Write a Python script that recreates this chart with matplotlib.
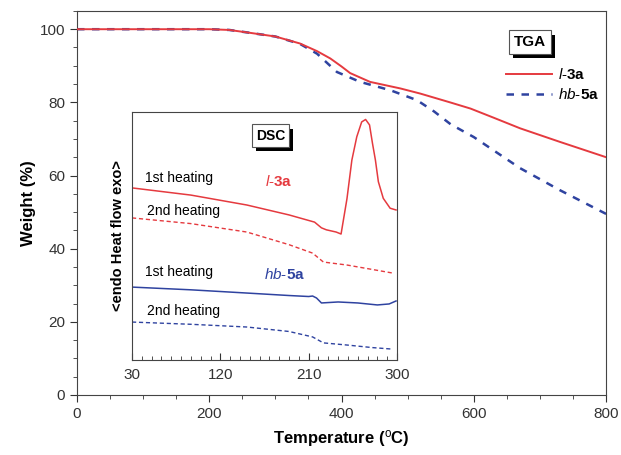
import matplotlib.pyplot as plt
import matplotlib.patheffects as pe
from matplotlib.ticker import MultipleLocator

plt.rcParams["font.family"] = ["Liberation Sans", "DejaVu Sans"]
plt.rcParams["mathtext.fontset"] = "custom"
plt.rcParams["mathtext.rm"] = "Liberation Sans"
plt.rcParams["mathtext.it"] = "Liberation Sans:italic"
plt.rcParams["mathtext.bf"] = "Liberation Sans:bold"

# TGA data (temperature in degC, weight in %)
tga_l3a_t = [0, 100, 200, 230, 262, 300, 337, 363, 383, 400, 413, 443, 489, 519, 564, 595, 630, 670, 730, 800]
tga_l3a_w = [100, 100, 100, 99.8, 99.0, 98.0, 96.1, 94.0, 92.0, 89.8, 88.0, 85.6, 83.8, 82.4, 80.0, 78.3, 75.8, 72.9, 69.2, 65.0]

tga_hb5a_t = [0, 100, 200, 230, 262, 300, 337, 363, 393, 428, 474, 514, 540, 565, 600, 670, 730, 800]
tga_hb5a_w = [100, 100, 100, 99.8, 99.0, 98.0, 96.0, 93.3, 88.3, 85.6, 83.3, 80.6, 77.5, 74.0, 70.5, 62.0, 56.0, 49.5]

# DSC data (temperature in degC, heat flow in arbitrary offset units)
dsc_l3a_1_t = [30, 90, 147, 190, 216, 223, 228, 238, 243, 249, 254, 259, 264, 268, 272, 275, 278, 281, 286, 293, 299]
dsc_l3a_1_h = [69.4, 66.5, 62.5, 58.5, 55.6, 53.3, 52.5, 51.6, 50.8, 65.0, 80.6, 90.0, 96.0, 97.0, 94.8, 87.4, 80.6, 71.9, 65.2, 61.2, 60.5]

dsc_l3a_2_t = [30, 90, 147, 190, 214, 225, 249, 275, 295]
dsc_l3a_2_h = [57.3, 55.0, 51.6, 46.5, 43.1, 39.5, 38.3, 36.5, 35.1]

dsc_hb5a_1_t = [30, 90, 147, 190, 210, 214, 218, 223, 240, 260, 280, 292, 299]
dsc_hb5a_1_h = [29.4, 28.3, 27.0, 26.0, 25.6, 25.8, 25.0, 23.0, 23.4, 23.0, 22.2, 22.6, 23.8]

dsc_hb5a_2_t = [30, 90, 147, 190, 214, 225, 250, 275, 295]
dsc_hb5a_2_h = [15.3, 14.4, 13.3, 11.5, 9.3, 6.9, 6.0, 5.0, 4.4]

red = "#e53a3f"
blue = "#2f43a0"

shadow = [pe.SimplePatchShadow(offset=(3, -3), shadow_rgbFace="black", alpha=1.0), pe.Normal()]

fig = plt.figure(figsize=(6.21, 4.55), dpi=100)
ax = fig.add_axes([0.124, 0.132, 0.852, 0.844])

ax.plot(tga_l3a_t, tga_l3a_w, color=red, lw=1.4, label=r"$\it{l}$-$\bf{3a}$", zorder=3)
ax.plot(tga_hb5a_t, tga_hb5a_w, color=blue, lw=1.8, ls=(0, (3, 3)), label=r"$\it{hb}$-$\bf{5a}$", zorder=2)

ax.set_xlim(0, 800)
ax.set_ylim(0, 105)
ax.xaxis.set_major_locator(MultipleLocator(200))
ax.xaxis.set_minor_locator(MultipleLocator(50))
ax.yaxis.set_major_locator(MultipleLocator(20))
ax.yaxis.set_minor_locator(MultipleLocator(5))
ax.tick_params(which="both", direction="out", labelsize=11, colors="#333333")
ax.tick_params(which="major", length=5)
ax.tick_params(which="minor", length=3)
ax.set_xlabel(r"Temperature ($^{\mathrm{o}}$C)", fontsize=12, fontweight="bold", labelpad=5)
ax.set_ylabel("Weight (%)", fontsize=12, fontweight="bold", labelpad=3)
for s in ax.spines.values():
    s.set_color("#444444")

# TGA box with shadow
t = ax.text(0.856, 0.919, "TGA", transform=ax.transAxes, ha="center", va="center",
            fontsize=11, fontweight="bold",
            bbox=dict(boxstyle="square,pad=0.3", fc="white", ec="#555555", lw=0.8))
t.get_bbox_patch().set_path_effects(shadow)

ax.legend(loc="upper left", bbox_to_anchor=(0.8, 0.87), frameon=False, fontsize=11,
          handlelength=3.0, handletextpad=0.4, labelspacing=0.35, borderaxespad=0)

# DSC inset
ax2 = fig.add_axes([0.2126, 0.2088, 0.4267, 0.545])
ax2.plot(dsc_l3a_1_t, dsc_l3a_1_h, color=red, lw=1.1)
ax2.plot(dsc_l3a_2_t, dsc_l3a_2_h, color=red, lw=1.0, ls=(0, (3, 2)))
ax2.plot(dsc_hb5a_1_t, dsc_hb5a_1_h, color=blue, lw=1.1)
ax2.plot(dsc_hb5a_2_t, dsc_hb5a_2_h, color=blue, lw=1.0, ls=(0, (3, 2)))
ax2.set_xlim(30, 300)
ax2.set_ylim(0, 100)
ax2.set_xticks([30, 120, 210, 300])
ax2.xaxis.set_minor_locator(MultipleLocator(10))
ax2.set_yticks([])
ax2.tick_params(axis="x", which="both", direction="in", labelsize=11, colors="#333333", pad=6)
ax2.tick_params(axis="x", which="major", length=5)
ax2.tick_params(axis="x", which="minor", length=3)
ax2.set_ylabel("<endo Heat flow exo>", fontsize=10.5, fontweight="bold", labelpad=5)
for s in ax2.spines.values():
    s.set_color("#444444")

ax2.text(43, 73.4, "1st heating", fontsize=10, va="center")
ax2.text(45, 60, "2nd heating", fontsize=10, va="center")
ax2.text(166, 72, r"$\it{l}$-$\bf{3a}$", fontsize=11, va="center", color=red)
ax2.text(43, 35.5, "1st heating", fontsize=10, va="center")
ax2.text(45, 19.8, "2nd heating", fontsize=10, va="center")
ax2.text(164, 34.3, r"$\it{hb}$-$\bf{5a}$", fontsize=11, va="center", color=blue)

d = ax2.text(0.522, 0.905, "DSC", transform=ax2.transAxes, ha="center", va="center",
             fontsize=10, fontweight="bold",
             bbox=dict(boxstyle="square,pad=0.3", fc="white", ec="#555555", lw=0.8))
d.get_bbox_patch().set_path_effects(shadow)

fig.savefig("out.png", dpi=100)
